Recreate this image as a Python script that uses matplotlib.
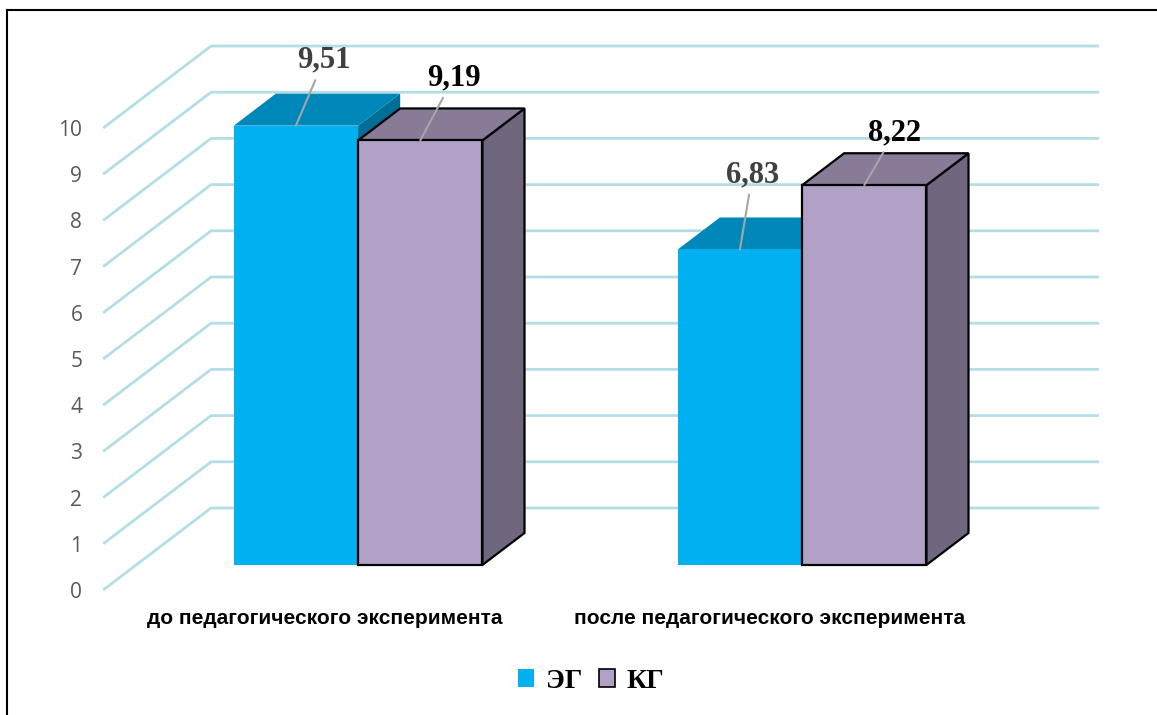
import numpy as np
import matplotlib.pyplot as plt
from matplotlib.patches import Polygon, Patch
from matplotlib.lines import Line2D

# data
categories = ['до педагогического эксперимента', 'после педагогического эксперимента']
series_names = ['ЭГ', 'КГ']
eg_values = [9.51, 6.83]
kg_values = [9.19, 8.22]
y_ticks = list(range(0, 11))

# fake 3d: depth axis projected as an oblique shift in data units
DX = 0.243    # x shift for full depth
DY = 1.775    # value shift for full depth
D0, D1 = 0.305, 0.695   # bar front / back depth
W = 0.28      # bar width

front_cols = ['#00B0F0', '#B2A1C7']
top_cols = ['#0087BA', '#877B98']
side_cols = ['#006E96', '#70667D']
edge_cols = ['none', 'black']
label_cols = ['#404040', '#000000']
# label offsets in points (text relative to top front edge centre)
label_offsets = [[(20, 47), (9, 54)], [(24, 45), (22, 38)]]


def proj(x, v, d):
    return x + d * DX, v + d * DY


fig = plt.figure(figsize=(11.57, 7.15), dpi=100)
ax = fig.add_axes([0, 0, 1, 1])
ax.set_xlim(-0.7324, 1.8734)
ax.set_ylim(-2.706, 12.771)
ax.patch.set_alpha(0)

# gridlines: front side wall diagonal + back wall horizontal
for v in y_ticks:
    xs = [-0.5, -0.5 + DX, 1.5 + DX]
    ys = [v, v + DY, v + DY]
    ax.plot(xs, ys, color='#B4DEE6', lw=2, zorder=0, solid_capstyle='butt')

x = np.arange(len(categories))
for i, vals in enumerate([eg_values, kg_values]):
    for j, v in enumerate(vals):
        x0 = x[j] - W if i == 0 else x[j]
        x1 = x0 + W
        ec = edge_cols[i]
        lw = 1.6 if ec != 'none' else 0
        zb = 2 + 3 * j + i
        # side face
        side = [proj(x1, 0, D0), proj(x1, 0, D1), proj(x1, v, D1), proj(x1, v, D0)]
        ax.add_patch(Polygon(side, closed=True, facecolor=side_cols[i], edgecolor=ec,
                             lw=lw, zorder=zb, joinstyle='miter'))
        # top face
        top = [proj(x0, v, D0), proj(x1, v, D0), proj(x1, v, D1), proj(x0, v, D1)]
        ax.add_patch(Polygon(top, closed=True, facecolor=top_cols[i], edgecolor=ec,
                             lw=lw, zorder=zb, joinstyle='miter'))
        # front face
        fx, fy = proj(x0, 0, D0)
        ax.bar(fx, v, bottom=fy, width=W, align='edge', color=front_cols[i],
               edgecolor=ec, lw=lw, zorder=zb)
        # value label with leader line
        px, py = proj((x0 + x1) / 2, v, D0)
        ax.annotate(f'{v:.2f}'.replace('.', ','), xy=(px, py),
                    xytext=label_offsets[i][j], textcoords='offset points',
                    ha='center', va='center', fontsize=22, fontweight='bold',
                    family='Liberation Serif', color=label_cols[i], zorder=20,
                    arrowprops=dict(arrowstyle='-', color='#A6A6A6', lw=1.5,
                                    shrinkA=2, shrinkB=0))

# axes / ticks
for s in ['top', 'right']:
    ax.spines[s].set_visible(False)
ax.spines['left'].set_position(('data', -0.5))
ax.spines['bottom'].set_position(('data', 0))
ax.spines['left'].set_visible(False)
ax.spines['bottom'].set_visible(False)
ax.set_yticks(y_ticks)
ax.set_yticklabels([str(t) for t in y_ticks], fontsize=15, color='#595959', family='Open Sans')
ax.tick_params(axis='y', length=0, pad=15)
ax.set_xticks(x)
ax.set_xticklabels(categories, fontsize=15, fontweight='bold', family='Liberation Sans')
ax.tick_params(axis='x', length=0, pad=14)

# legend
handles = [Patch(facecolor=front_cols[0], edgecolor='none'),
           Patch(facecolor=front_cols[1], edgecolor='black', lw=1.2)]
fig.legend(handles, series_names, loc='center', bbox_to_anchor=(591 / 1157, 1 - 681 / 715),
           ncol=2, frameon=False, handlelength=0.6, handleheight=0.6, handletextpad=0.4,
           columnspacing=0.6, prop={'family': 'Liberation Serif', 'weight': 'bold', 'size': 20})

# frame (left and top edges)
fig.add_artist(Line2D([7 / 1157, 7 / 1157], [0, 1 - 10 / 715], color='black', lw=1.5))
fig.add_artist(Line2D([7 / 1157, 1], [1 - 10 / 715, 1 - 10 / 715], color='black', lw=1.5))

fig.savefig('out.png', dpi=100)
